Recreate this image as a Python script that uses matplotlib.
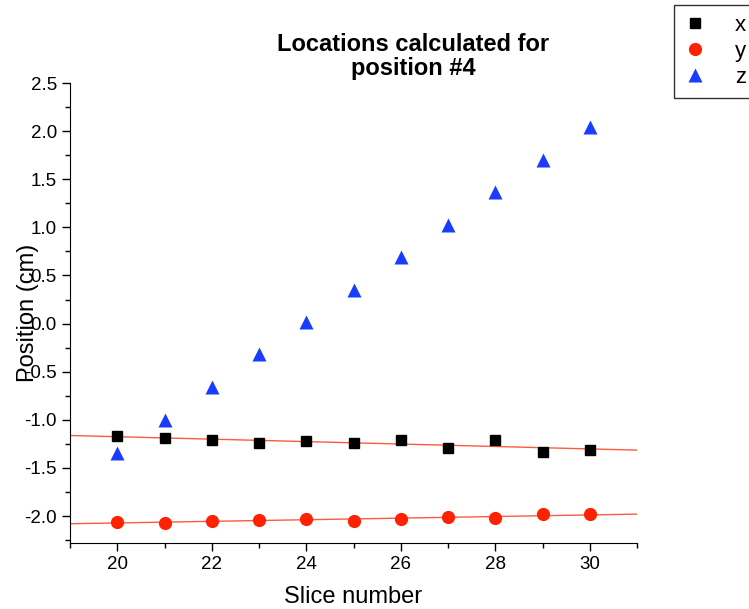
import numpy as np
import matplotlib.pyplot as plt
from matplotlib.ticker import MultipleLocator

plt.rcParams['font.family'] = ['Liberation Sans', 'DejaVu Sans']

slices = np.arange(20, 31)
pos_x = [-1.17, -1.19, -1.21, -1.24, -1.22, -1.24, -1.21, -1.29, -1.21, -1.335, -1.315]
pos_y = [-2.06, -2.07, -2.055, -2.04, -2.03, -2.05, -2.03, -2.015, -2.02, -1.98, -1.98]
pos_z = [-1.345, -1.0, -0.66, -0.32, 0.015, 0.35, 0.69, 1.025, 1.365, 1.70, 2.04]

fig = plt.figure(figsize=(7.49, 6.09), dpi=100)
ax = fig.add_axes([0.0935, 0.1084, 0.757, 0.7553])

ax.plot(slices, pos_x, 's', color='black', ms=7.5, label='x', zorder=3)
ax.plot(slices, pos_y, 'o', color='#ff2200', ms=9.5, mec='none', label='y', zorder=3)
ax.plot(slices, pos_z, '^', color='#1a3cff', ms=10, mec='none', label='z', zorder=3)

# linear fits for x and y
xx = np.array([19, 31])
for vals in (pos_x, pos_y):
    k, b = np.polyfit(slices, vals, 1)
    ax.plot(xx, k * xx + b, color='#ff5a40', lw=1, zorder=2)

ax.set_xlim(19, 31)
ax.set_ylim(-2.28, 2.5)
ax.xaxis.set_major_locator(MultipleLocator(2))
ax.xaxis.set_minor_locator(MultipleLocator(1))
ax.yaxis.set_major_locator(MultipleLocator(0.5))
ax.yaxis.set_minor_locator(MultipleLocator(0.25))
ax.yaxis.set_major_formatter(plt.FormatStrFormatter('%.1f'))
ax.tick_params(which='major', direction='out', length=6, width=1, labelsize=13.5)
ax.tick_params(which='minor', direction='out', length=3.5, width=1)
for s in ('top', 'right'):
    ax.spines[s].set_visible(False)

ax.set_xlabel('Slice number', fontsize=17)
ax.xaxis.set_label_coords(0.5, -0.093)
ax.set_ylabel('Position (cm)', fontsize=17)
ax.yaxis.set_label_coords(-0.055, 0.5)

fig.text(413 / 749, 1 - 33 / 609, 'Locations calculated for\nposition #4',
         ha='center', va='top', fontsize=17, fontweight='bold', linespacing=1.05)

leg = fig.legend(loc='upper left', bbox_to_anchor=(674 / 749, 1 - 5 / 609),
                 fontsize=16, frameon=True, fancybox=False, edgecolor='black',
                 handletextpad=1.3, borderpad=0.45, labelspacing=0.22,
                 handlelength=1.0, borderaxespad=0)
leg.get_frame().set_linewidth(1)

fig.savefig('out.png', dpi=100)
